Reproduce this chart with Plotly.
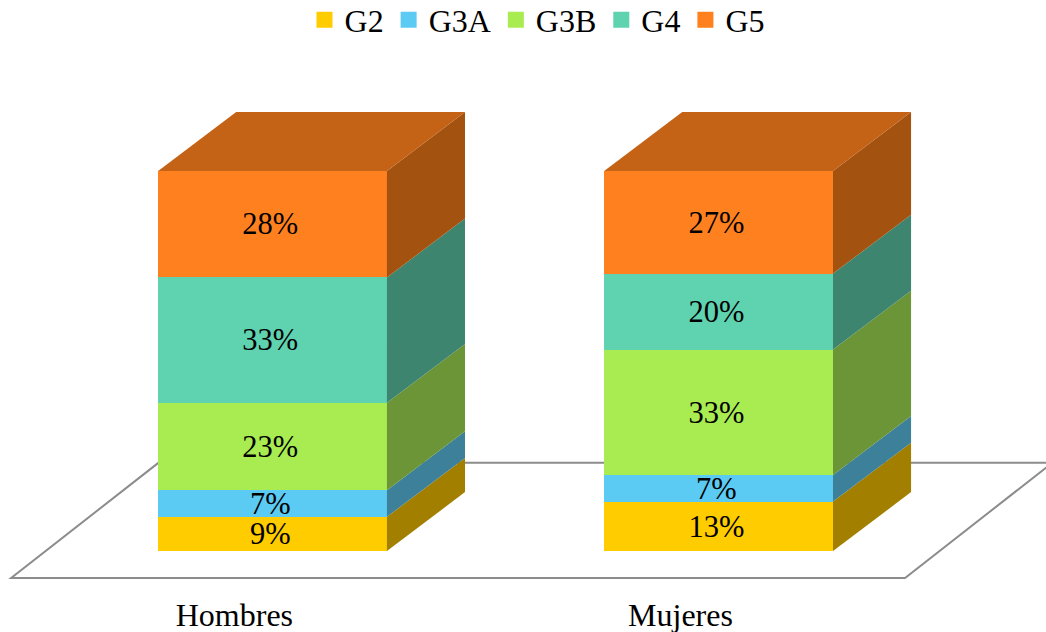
import plotly.graph_objects as go

categories = ["Hombres", "Mujeres"]
series_names = ["G2", "G3A", "G3B", "G4", "G5"]
g2 = [9, 13]
g3a = [7, 7]
g3b = [23, 33]
g4 = [33, 20]
g5 = [28, 27]
series_values = [g2, g3a, g3b, g4, g5]

front_colors = ["#FFCC00", "#5CCBF4", "#A8EC52", "#5FD2B0", "#FF801F"]
side_colors = ["#A37F00", "#3C809A", "#6B9536", "#3E8570", "#A45210"]
top_color = "#C46216"
floor_line = "#8C8C8C"

# One x unit is the spacing between columns; y is in percent.
BAR_WIDTH = 0.513
DEPTH_X = 0.175
DEPTH_Y = 15.5
LABEL_SHIFT_X = -0.005
LABEL_SHIFT_Y = -0.7
positions = [0, 1]
FONT = "Liberation Serif"

fig = go.Figure()

# Front faces of the stacked columns.
for name, values, color in zip(series_names, series_values, front_colors):
    fig.add_trace(go.Bar(
        x=positions, y=values, width=BAR_WIDTH, name=name,
        marker=dict(color=color, line=dict(width=0)),
        showlegend=False, hoverinfo="skip",
    ))

# Receding side faces and the top face of each column.
for xpos, stack in zip(positions, zip(*series_values)):
    right = xpos + BAR_WIDTH / 2
    left = xpos - BAR_WIDTH / 2
    base = 0
    for value, color in zip(stack, side_colors):
        fig.add_trace(go.Scatter(
            x=[right, right + DEPTH_X, right + DEPTH_X, right, right],
            y=[base, base + DEPTH_Y, base + value + DEPTH_Y, base + value, base],
            mode="lines", fill="toself", fillcolor=color, line=dict(width=0),
            showlegend=False, hoverinfo="skip",
        ))
        # Percentage label centred on the front face of this segment.
        fig.add_trace(go.Scatter(
            x=[xpos + LABEL_SHIFT_X], y=[base + value / 2 + LABEL_SHIFT_Y],
            mode="text", text=[f"{value}%"], textposition="middle center",
            textfont=dict(family=FONT, size=30.5, color="#000000"),
            showlegend=False, hoverinfo="skip",
        ))
        base += value
    fig.add_trace(go.Scatter(
        x=[left, right, right + DEPTH_X, left + DEPTH_X, left],
        y=[base, base, base + DEPTH_Y, base + DEPTH_Y, base],
        mode="lines", fill="toself", fillcolor=top_color, line=dict(width=0),
        showlegend=False, hoverinfo="skip",
    ))

# Legend keys.
for name, color in zip(series_names, front_colors):
    fig.add_trace(go.Scatter(
        x=[None], y=[None], mode="markers", name=name,
        marker=dict(symbol="square", size=16, color=color),
    ))

# Floor plane behind the columns.
floor_front_left, floor_front_right = -0.586, 1.418
floor_back_left, floor_back_right = -0.256, 1.748
floor_front, floor_back = -7.1, 23.2
floor_path = (
    f"M {floor_front_left} {floor_front} L {floor_front_right} {floor_front} "
    f"L {floor_back_right} {floor_back} L {floor_back_left} {floor_back} Z"
)
fig.add_shape(type="path", path=floor_path, layer="below",
              line=dict(color=floor_line, width=2), fillcolor="rgba(0,0,0,0)")

fig.update_layout(
    width=1046, height=632,
    margin=dict(l=0, r=0, t=0, b=42, autoexpand=False),
    barmode="stack", bargap=0,
    paper_bgcolor="#FFFFFF", plot_bgcolor="#FFFFFF",
    showlegend=True,
    legend=dict(
        orientation="h", x=0.5134, xanchor="center", y=1.013, yanchor="top",
        font=dict(family=FONT, size=32, color="#000000"),
        itemsizing="trace", itemwidth=30, traceorder="normal",
        bgcolor="rgba(0,0,0,0)",
    ),
    xaxis=dict(
        range=[-0.611, 1.734], showgrid=False, zeroline=False, showline=False,
        ticks="", tickmode="array", automargin=False,
        tickvals=[p - DEPTH_X / 2 + 0.002 for p in positions], ticktext=categories,
        tickfont=dict(family=FONT, size=32, color="#000000"),
        ticklabelstandoff=3,
    ),
    yaxis=dict(
        range=[-10.26, 145.0], showgrid=False, zeroline=False, showline=False,
        showticklabels=False, ticks="", automargin=False,
    ),
)

fig.write_html("out.html")
